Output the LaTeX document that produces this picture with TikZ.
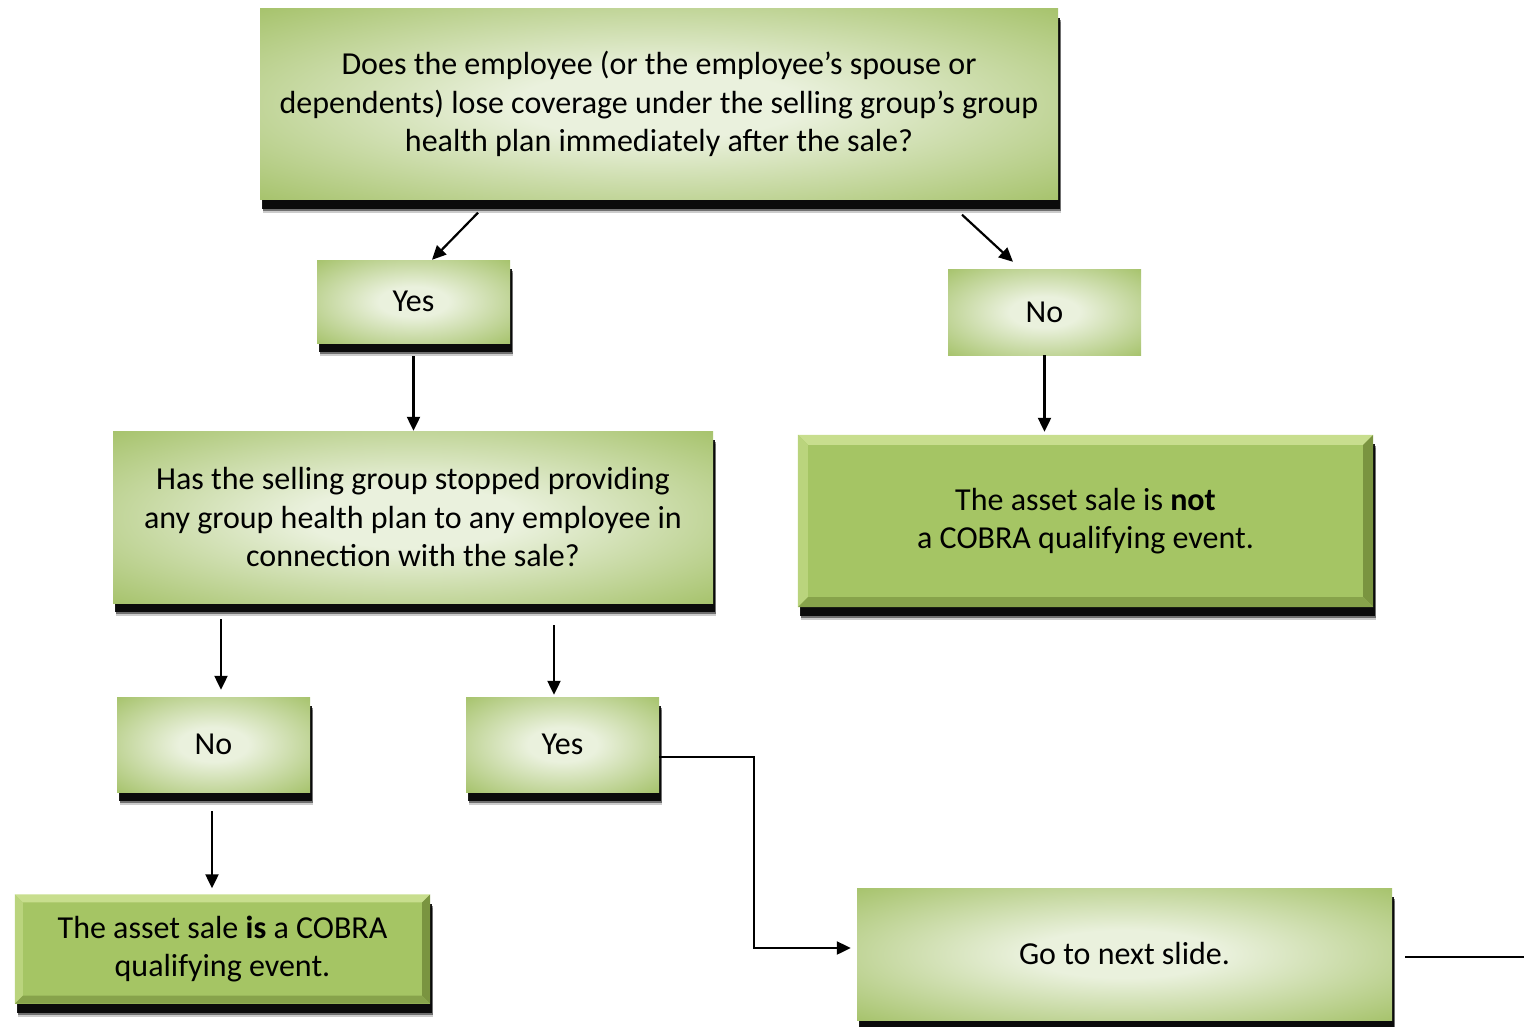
\documentclass[tikz,border=0pt]{standalone}
\usepackage{fontspec}
\setmainfont{Carlito}
\usetikzlibrary{arrows.meta,shadows,calc}

\definecolor{boxgreen}{HTML}{9BBB59}
\definecolor{glowin}{HTML}{EAF1DD}
\definecolor{bevfill}{HTML}{A5C564}
\definecolor{bevlight}{HTML}{C8DE8E}
\definecolor{bevdark}{HTML}{7A9440}
\pgfdeclareradialshading{glow}{\pgfpoint{0bp}{0bp}}{color(0bp)=(glowin); color(9bp)=(glowin); color(40bp)=(boxgreen); color(50bp)=(boxgreen)}

\tikzset{
  txt/.style={align=center, inner sep=0pt, font=\fontsize{32}{38.5}\selectfont},
  glowbox/.style={txt, rectangle, shade, shading=glow},
  shadowed/.style={
    drop shadow={shadow xshift=3pt, shadow yshift=-13pt, opacity=.2, fill=black},
    drop shadow={shadow xshift=3pt, shadow yshift=-11pt, opacity=.45, fill=black},
    drop shadow={shadow xshift=2pt, shadow yshift=-9pt, opacity=.9, fill=black}},
  bevelbox/.style={txt, rectangle, fill=bevfill, shadowed},
  arr/.style={-{Triangle[length=14pt,width=13pt]}, line width=2.2pt},
}

% bevel edges round a node: name, size
\newcommand\bevelize[2]{%
  \fill[bevlight] (#1.north west) -- (#1.north east) -- ([shift={(-#2pt,-#2pt)}]#1.north east) -- ([shift={(#2pt,-#2pt)}]#1.north west) -- cycle;
  \fill[bevlight!60!bevfill] (#1.north west) -- ([shift={(#2pt,-#2pt)}]#1.north west) -- ([shift={(#2pt,#2pt)}]#1.south west) -- (#1.south west) -- cycle;
  \fill[bevdark] (#1.north east) -- (#1.south east) -- ([shift={(-#2pt,#2pt)}]#1.south east) -- ([shift={(-#2pt,-#2pt)}]#1.north east) -- cycle;
  \fill[bevdark!70!bevfill] (#1.south west) -- ([shift={(#2pt,#2pt)}]#1.south west) -- ([shift={(-#2pt,#2pt)}]#1.south east) -- (#1.south east) -- cycle;
}

\begin{document}
\begin{tikzpicture}[x=1pt, y=-1pt]
    \useasboundingbox (0,0) rectangle (1524,1026);

    % Questions
    \node[glowbox, shadowed, minimum width=798, minimum height=191] (q1) at (659,104)
        {Does the employee (or the employee’s spouse or\\dependents) lose coverage under the selling group’s group\\health plan immediately after the sale?};
    \node[glowbox, shadowed, minimum width=600, minimum height=172] (q2) at (413,517)
        {Has the selling group stopped providing\\any group health plan to any employee in\\connection with the sale?};

    % Answers
    \node[glowbox, shadowed, minimum width=193, minimum height=83] (yes1) at (413.5,301.5) {Yes};
    \node[glowbox, minimum width=193, minimum height=86] (no1) at (1044.5,312) {No};
    \node[glowbox, shadowed, minimum width=193, minimum height=95] (no2) at (213.5,744.5) {No};
    \node[glowbox, shadowed, minimum width=193, minimum height=95] (yes2) at (562.5,744.5) {Yes};

    % Results
    \node[bevelbox, minimum width=575, minimum height=172] (notqe) at (1085.5,521)
        {The asset sale is \textbf{not}\\a COBRA qualifying event.};
    \bevelize{notqe}{10}
    \node[bevelbox, minimum width=415, minimum height=109] (isqe) at (222.5,949)
        {The asset sale \textbf{is} a COBRA\\qualifying event.};
    \bevelize{isqe}{8}
    \node[glowbox, shadowed, minimum width=535, minimum height=132] (next) at (1124.5,954) {Go to next slide.};

    % Arrow ends
    \coordinate (s1) at ($(q1.south)+(-181,13)$);
    \coordinate (s2) at ($(q1.south)+(303,15)$);
    \coordinate (s3) at ($(yes1.south)+(0,13)$);
    \coordinate (s4) at ($(q2.south)+(-192,16)$);
    \coordinate (s5) at ($(q2.south)+(141,22)$);
    \coordinate (s6) at ($(no2.south)+(-1.5,19)$);
    \coordinate (s7) at ($(yes2.east)+(0,12.5)$);
    \coordinate (s8) at ($(next.east)+(13,3)$);
    \coordinate (e8) at (1524,957);

    % Arrows
    \draw[arr] (s1) -- ($(yes1.north)+(18.5,0)$);
    \draw[arr] (s2) -- ($(no1.north)+(-31.5,-7)$);
    \draw[arr] (s3) -- (s3 |- q2.north);
    \draw[arr] (no1.south) -- ($(no1.south |- notqe.north)+(0,-3)$);
    \draw[arr] (s4) -- ($(s4 |- no2.north)+(0,-7)$);
    \draw[arr] (s5) -- ($(s5 |- yes2.north)+(0,-2)$);
    \draw[arr] (s6) -- ($(s6 |- isqe.north)+(0,-6)$);
    \draw[arr] (s7) -- ++(95,0) |- ($(next.west)+(-6,-6)$);
    \draw[line width=2.2pt] (s8) -- (e8);
\end{tikzpicture}
\end{document}
